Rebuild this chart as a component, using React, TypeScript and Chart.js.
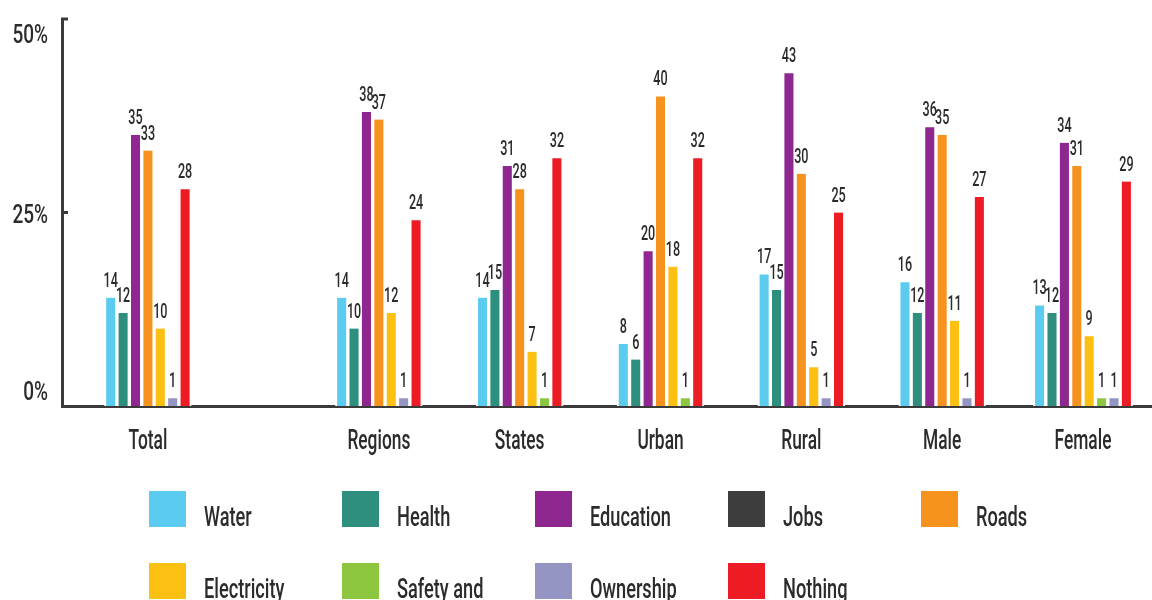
import React, { useEffect, useRef } from 'react';
import { Chart, registerables } from 'chart.js';

Chart.register(...registerables);

// ---------- data ----------
const categories = ['Total', 'Regions', 'States', 'Urban', 'Rural', 'Male', 'Female'];
const seriesNames = ['Water', 'Health', 'Education', 'Jobs', 'Roads', 'Electricity', 'Safety and', 'Ownership', 'Nothing'];
const water = [14, 14, 14, 8, 17, 16, 13];
const health = [12, 10, 15, 6, 15, 12, 12];
const education = [35, 38, 31, 20, 43, 36, 34];
const jobs = [null, null, null, null, null, null, null];
const roads = [33, 37, 28, 40, 30, 35, 31];
const electricity = [10, 12, 7, 18, 5, 11, 9];
const safety = [null, null, 1, 1, null, null, 1];
const ownership = [1, 1, null, null, 1, 1, 1];
const nothing = [28, 24, 32, 32, 25, 27, 29];
const yTickValues = [0, 25, 50];

// ---------- style ----------
const seriesValues = [water, health, education, jobs, roads, electricity, safety, ownership, nothing];
const colors = ['#5BCBF0', '#2E8F7E', '#8E278F', '#3D3D3D', '#F6921E', '#FCC012', '#8DC63F', '#9595C3', '#ED1C24'];
const FONT = "Roboto, 'DejaVu Sans Condensed', sans-serif";
const WEIGHT = 500;
const TEXT = '#2b2b2b';
const AXIS = '#3a3a3a';
const GAP_AFTER_FIRST = 0.64; // extra spacing after the "Total" group
const xPos = categories.map((_, i) => (i === 0 ? 0 : i + GAP_AFTER_FIRST));

// condensed text: draw with a horizontal squeeze
function drawText(ctx: CanvasRenderingContext2D, text: string, x: number, y: number, size: number, sx: number, align: CanvasTextAlign) {
  ctx.save();
  ctx.translate(x, y);
  ctx.scale(sx, 1);
  ctx.font = `${WEIGHT} ${size}px ${FONT}`;
  ctx.textAlign = align;
  ctx.textBaseline = 'alphabetic';
  ctx.fillText(text, 0, 0);
  ctx.restore();
}

const overlayPlugin = {
  id: 'overlay',
  afterDraw(chart: any) {
    const ctx = chart.ctx;
    const { left, top, bottom } = chart.chartArea;
    const yScale = chart.scales.y;
    const xScale = chart.scales.x;
    ctx.save();
    ctx.strokeStyle = AXIS;
    ctx.lineWidth = 3;
    ctx.fillStyle = TEXT;
    // y tick marks (inward) and labels
    yTickValues.forEach((v) => {
      const py = yScale.getPixelForValue(v);
      if (v !== 0) {
        ctx.beginPath();
        ctx.moveTo(left - 1, py);
        ctx.lineTo(left + 6, py);
        ctx.stroke();
      }
      const ly = Math.min(Math.max(py + 10, top + 24), bottom - 6);
      drawText(ctx, `${v}%`, left - 14, ly, 25, 0.76, 'right');
    });
    // category labels
    categories.forEach((c, i) => {
      drawText(ctx, c, xScale.getPixelForValue(xPos[i]), bottom + 43, 28, 0.62, 'center');
    });
    // value labels
    chart.data.datasets.forEach((_ds: any, di: number) => {
      const meta = chart.getDatasetMeta(di);
      meta.data.forEach((el: any, i: number) => {
        const v = seriesValues[di][i];
        if (v === null || v === undefined) return;
        drawText(ctx, String(v), el.x, el.y - 11, 20, 0.63, 'center');
      });
    });
    // legend
    seriesNames.forEach((name, i) => {
      const col = i % 5;
      const row = Math.floor(i / 5);
      const bx = 149 + col * 193;
      const by = 491 + row * 72;
      ctx.fillStyle = colors[i];
      ctx.fillRect(bx, by, 37, 36);
      ctx.fillStyle = TEXT;
      drawText(ctx, name, bx + 55, by + 35, 28, 0.65, 'left');
    });
    ctx.restore();
  },
};

export default function App() {
  const ref = useRef<HTMLCanvasElement>(null);
  useEffect(() => {
    if (!ref.current) return;
    const chart = new Chart(ref.current, {
      type: 'bar',
      data: {
        datasets: seriesNames.map((name, si) => ({
          label: name,
          data: seriesValues[si].map((v, i) => ({ x: xPos[i], y: v })),
          backgroundColor: colors[si],
          borderColor: '#ffffff',
          borderWidth: { left: 2, right: 2, top: 0, bottom: 0 },
          borderSkipped: false,
          barThickness: 12.4,
          skipNull: true,
        })) as any,
      },
      options: {
        responsive: false,
        animation: false,
        layout: { padding: { left: 62, top: 19, right: 0, bottom: 194 } },
        plugins: { legend: { display: false }, tooltip: { enabled: false } },
        scales: {
          x: {
            type: 'linear',
            offset: false,
            min: -0.61,
            max: 7.13,
            grid: { display: false, drawTicks: false },
            border: { display: true, color: AXIS, width: 3 },
            ticks: { display: false },
          },
          y: {
            min: 0,
            max: 50,
            grid: { display: false, drawTicks: false },
            border: { display: true, color: AXIS, width: 3 },
            ticks: { display: false },
          },
        },
      } as any,
      plugins: [overlayPlugin],
    });
    return () => chart.destroy();
  }, []);
  return (
    <div style={{ position: 'absolute', left: 0, top: 0, width: 1152, height: 600, background: '#fff' }}>
      <canvas ref={ref} width={1152} height={600} />
    </div>
  );
}
